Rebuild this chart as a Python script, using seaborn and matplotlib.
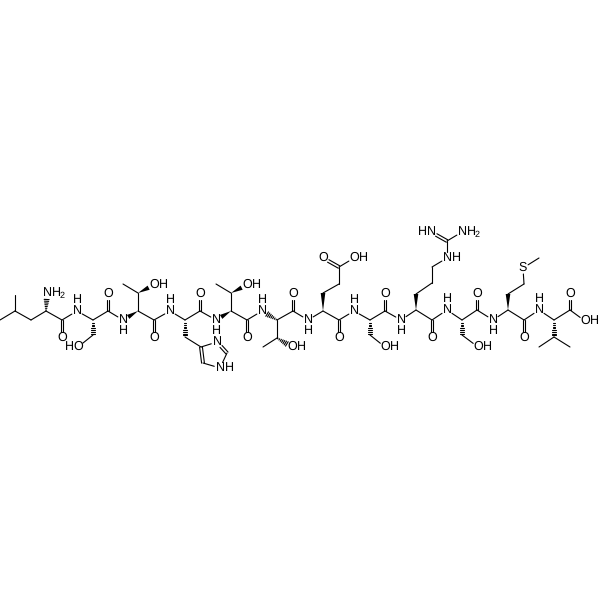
import numpy as np
import pandas as pd
import seaborn as sns
import matplotlib
matplotlib.use("Agg")
import matplotlib.pyplot as plt

sns.set_theme(style="white")
plt.rcParams['font.family'] = ['Liberation Sans', 'DejaVu Sans']
plt.rcParams['text.hinting'] = 'none'

# atoms (pixels)
atom_id = ["me1", "me2", "cg1", "cb1", "ca1", "n1", "c1", "o1",
           "n2", "ca2", "c2", "o2", "cb2", "og2",
           "n3", "ca3", "cb3", "me3", "og3", "c3", "o3",
           "n4", "ca4", "cb4", "c5i", "n5i", "c6i", "n7i", "c8i", "c4", "o4",
           "n5", "ca5", "cb5", "me5", "og5", "c5", "o5",
           "n6", "ca6", "cb6", "me6", "og6", "c6", "o6",
           "n7", "ca7", "cb7", "cg7", "cd7", "oe7", "oh7", "c7", "o7",
           "n8", "ca8", "cb8", "og8", "c8", "o8",
           "n9", "ca9", "cb9", "cg9", "cd9", "ne9", "cz9", "nh9", "nn9", "c9", "o9",
           "n10", "ca10", "cb10", "og10", "c10", "o10",
           "n11", "ca11", "cb11", "cg11", "sd11", "me11", "c11", "o11",
           "n12", "ca12", "cb12", "mea12", "meb12", "c12", "o12", "oh12"]
atom_x = [0, 15, 15, 31, 46, 47, 62, 62,
          77, 93, 108, 108, 93, 78,
          123, 138, 138, 123, 154, 154, 154,
          170, 185, 185, 201, 217, 227, 220, 203, 200, 200,
          216, 231, 231, 216, 247, 247, 247,
          262, 277, 277, 263, 292, 293, 293,
          308, 323, 323, 339, 339, 323, 354, 339, 339,
          354, 370, 370, 385, 385, 385,
          401, 416, 416, 432, 432, 447, 447, 431, 462, 432, 432,
          447, 462, 462, 478, 477, 477,
          493, 508, 508, 524, 523, 539, 524, 524,
          539, 554, 554, 539, 570, 570, 570, 585]
atom_y = [320, 295, 311, 320, 311, 293, 320, 338,
          311, 320, 311, 294, 335, 347,
          320, 311, 293, 284, 285, 320, 338,
          311, 320, 337, 347, 342, 353, 368, 363, 311, 294,
          320, 311, 293, 284, 285, 320, 338,
          311, 320, 338, 347, 347, 311, 294,
          320, 311, 293, 284, 267, 258, 258, 320, 338,
          311, 320, 335, 347, 311, 294,
          320, 310, 294, 283, 267, 258, 241, 232, 232, 320, 338,
          310, 320, 335, 347, 310, 294,
          320, 310, 294, 284, 268, 258, 320, 338,
          310, 320, 337, 347, 347, 310, 294, 321]

# bonds
single_bonds = [("me1", "cg1"), ("me2", "cg1"), ("cg1", "cb1"), ("cb1", "ca1"), ("ca1", "c1"), ("c1", "n2"),
                ("n2", "ca2"), ("ca2", "c2"), ("c2", "n3"), ("cb2", "og2"),
                ("ca3", "cb3"), ("cb3", "me3"), ("ca3", "c3"), ("c3", "n4"),
                ("n4", "ca4"), ("ca4", "c4"), ("c4", "n5"), ("cb4", "c5i"),
                ("c5i", "n5i"), ("c6i", "n7i"), ("n7i", "c8i"),
                ("ca5", "cb5"), ("cb5", "me5"), ("ca5", "c5"), ("c5", "n6"),
                ("ca6", "cb6"), ("cb6", "me6"), ("ca6", "c6"), ("c6", "n7"),
                ("n7", "ca7"), ("cb7", "cg7"), ("cg7", "cd7"), ("cd7", "oh7"), ("ca7", "c7"), ("c7", "n8"),
                ("n8", "ca8"), ("ca8", "c8"), ("c8", "n9"), ("cb8", "og8"),
                ("n9", "ca9"), ("cb9", "cg9"), ("cg9", "cd9"), ("cd9", "ne9"), ("ne9", "cz9"), ("cz9", "nn9"),
                ("ca9", "c9"), ("c9", "n10"),
                ("n10", "ca10"), ("ca10", "c10"), ("c10", "n11"), ("cb10", "og10"),
                ("n11", "ca11"), ("cb11", "cg11"), ("cg11", "sd11"), ("sd11", "me11"), ("ca11", "c11"), ("c11", "n12"),
                ("n12", "ca12"), ("ca12", "c12"), ("cb12", "mea12"), ("cb12", "meb12"), ("c12", "oh12")]
double_bonds = [("c1", "o1"), ("c2", "o2"), ("c3", "o3"), ("c4", "o4"), ("c5", "o5"), ("c6", "o6"),
                ("c7", "o7"), ("cd7", "oe7"), ("c8", "o8"), ("c9", "o9"), ("cz9", "nh9"),
                ("c10", "o10"), ("c11", "o11"), ("c12", "o12"), ("c5i", "c8i"), ("n5i", "c6i")]
wedge_bonds = [("ca3", "n3"), ("cb3", "og3"), ("ca5", "n5"), ("cb5", "og5"), ("ca7", "cb7"),
               ("ca9", "cb9"), ("ca11", "cb11")]
hash_bonds = [("ca1", "n1"), ("ca2", "cb2"), ("ca4", "cb4"), ("ca6", "n6"), ("cb6", "og6"),
              ("ca8", "cb8"), ("ca10", "cb10"), ("ca12", "cb12")]

# labelled atoms: id, symbol, side of the H
label_id = ["n1", "o1", "n2", "o2", "og2", "n3", "og3", "o3", "n4", "o4", "n5i", "n7i",
            "n5", "og5", "o5", "n6", "og6", "o6", "n7", "oe7", "oh7", "o7",
            "n8", "og8", "o8", "n9", "ne9", "nh9", "nn9", "o9",
            "n10", "og10", "o10", "n11", "sd11", "o11", "n12", "o12", "oh12"]
label_symbol = ["N", "O", "N", "O", "O", "N", "O", "O", "N", "O", "N", "N",
                "N", "O", "O", "N", "O", "O", "N", "O", "O", "O",
                "N", "O", "O", "N", "N", "N", "N", "O",
                "N", "O", "O", "N", "S", "O", "N", "O", "O"]
label_h = ["right2", "", "up", "", "left", "down", "right", "", "up", "", "", "right",
           "down", "right", "", "up", "right", "", "down", "", "right", "",
           "up", "right", "", "down", "right", "left", "right2", "",
           "up", "right", "", "down", "", "", "up", "", "right"]

pos = {a: np.array([x, y], dtype=float) for a, x, y in zip(atom_id, atom_x, atom_y)}
GAP = 6.0


def ends(a, b):
    # pull bond ends back from the atom labels
    p, q = pos[a].copy(), pos[b].copy()
    d = (q - p) / np.linalg.norm(q - p)
    if a in label_id:
        p += d * GAP
    if b in label_id:
        q -= d * GAP
    return p, q, d


segments = []
for a, b in single_bonds:
    p, q, d = ends(a, b)
    segments.append((p, q))
for a, b in double_bonds:
    p, q, d = ends(a, b)
    n = np.array([-d[1], d[0]]) * 1.4
    segments.append((p + n, q + n))
    segments.append((p - n, q - n))
for a, b in hash_bonds:
    p, q, d = ends(a, b)
    n = np.array([-d[1], d[0]])
    length = np.linalg.norm(q - p)
    for t in np.arange(0.08, 1.0, 0.8 / (length / 2.2)):
        w = 2.4 * t + 0.2
        segments.append((p + (q - p) * t + n * w, p + (q - p) * t - n * w))

lines = pd.DataFrame([{"seg": i, "x": s[k][0], "y": s[k][1]}
                      for i, s in enumerate(segments) for k in (0, 1)])

fig = plt.figure(figsize=(6, 6), dpi=100)
ax = fig.add_axes([0, 0, 1, 1])
sns.lineplot(data=lines, x="x", y="y", units="seg", estimator=None, sort=False,
             color="black", linewidth=0.8, ax=ax, legend=False)

for a, b in wedge_bonds:
    p, q, d = ends(a, b)
    n = np.array([-d[1], d[0]]) * 2.3
    tri = np.array([p, q + n, q - n])
    ax.fill(tri[:, 0], tri[:, 1], color="black", linewidth=0)

txt = dict(ha="center", va="center", fontsize=9, color="black")
for a, sym, h in zip(label_id, label_symbol, label_h):
    x, y = pos[a]
    ax.text(x, y, sym, **txt)
    if h == "up":
        ax.text(x, y - 11, "H", **txt)
    elif h == "down":
        ax.text(x, y + 11, "H", **txt)
    elif h == "right":
        ax.text(x + 9, y, "H", **txt)
    elif h == "left":
        ax.text(x - 9, y, "H", **txt)
    elif h == "right2":
        ax.text(x + 9, y, "H", **txt)
        ax.text(x + 15.5, y + 3, "2", ha="center", va="center", fontsize=6.5, color="black")

ax.set_xlim(0, 600)
ax.set_ylim(600, 0)
ax.axis("off")
fig.savefig("out.png", dpi=100, facecolor="white")
